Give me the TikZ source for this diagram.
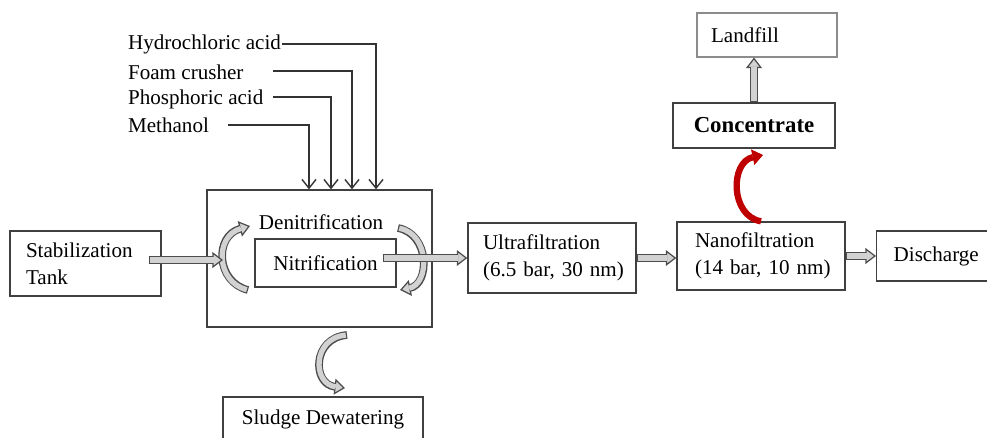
\documentclass[tikz,border=0pt]{standalone}
\usepackage{fontspec}
\setmainfont{Liberation Serif}
\usetikzlibrary{arrows.meta,positioning,calc}

\begin{document}
\begin{tikzpicture}[x=0.02cm, y=-0.02cm,
  font=\fontsize{12}{15.4}\selectfont,
  box/.style={draw=black!75, line width=0.8pt, align=left, inner ysep=0pt},
  chem/.style={anchor=west, inner sep=1pt},
  feed/.style={draw=black!80, line width=0.8pt, -{Straight Barb[length=5pt, width=8pt, line width=0.8pt]}},
  blk/.style={draw=black!70, line width=4.4pt,
    -{Triangle[open, fill=gray!35, line width=0.7pt, length=6pt, width=9pt]},
    postaction={draw=gray!35, line width=3pt, shorten >=5.3pt, shorten <=0.7pt, arrows=-}},
  redarr/.style={draw=red!75!black, line width=3.6pt, -{Triangle[length=6pt, width=9pt, line width=0.5pt]}}]
\useasboundingbox (0,0) rectangle (987,437);
% process boxes
\node[box, text width=2.38cm, inner xsep=0.32cm, minimum height=1.3cm] (stab) at (85.5,263.5) {Stabilization\\Tank};
\node[box, minimum width=4.5cm, minimum height=2.74cm] (reactor) at (319.5,258.5) {};
\node (denit) at (321,222) {Denitrification};
\node[box, minimum width=2.82cm, minimum height=0.96cm] (nit) at (325.5,263) {Nitrification};
\node[box, text width=2.76cm, inner xsep=0.3cm, minimum height=1.4cm] (uf) at (552,258) {Ultrafiltration\\\mbox{(6.5 bar, 30 nm)}};
\node[box, text width=2.64cm, inner xsep=0.36cm, minimum height=1.36cm] (nf) at (761,256) {Nanofiltration\\\mbox{(14 bar, 10 nm)}};
\node[box, anchor=west, text width=1.8cm, inner xsep=0.34cm, minimum height=1cm] (dis) at (876,256) {Discharge};
\node[box, minimum width=3.24cm, minimum height=0.9cm, font=\fontsize{13}{15}\selectfont\bfseries] (conc) at (754,125.5) {Concentrate};
\node[box, draw=black!45, line width=0.6pt, text width=2.24cm, inner xsep=0.28cm, minimum height=0.88cm] (land) at (767,35) {Landfill};
\node[box, minimum width=4cm, minimum height=0.88cm] (sludge) at (323,419) {Sludge Dewatering};
% chemicals dosed into the reactor
\node[chem] (hcl) at (126,44) {Hydrochloric acid};
\node[chem] (foam) at (126,72) {Foam crusher};
\node[chem] (phos) at (126,99) {Phosphoric acid};
\node[chem] (meth) at (126,125) {Methanol};
\coordinate (hcl-s) at (282,44);
\coordinate (foam-s) at (273,71);
\coordinate (phos-s) at (273,97);
\coordinate (meth-s) at (228,125);
\draw[feed] (hcl-s) -| (376,0 |- reactor.north);
\draw[feed] (foam-s) -| (352,0 |- reactor.north);
\draw[feed] (phos-s) -| (331,0 |- reactor.north);
\draw[feed] (meth-s) -| (309,0 |- reactor.north);
% recirculation arrows
\coordinate (rl-a) at (248,290);
\coordinate (rl-b) at (250,226);
\coordinate (rr-a) at (398,228);
\coordinate (rr-b) at (400,290);
\coordinate (sl-a) at (347,335);
\coordinate (sl-b) at (345,388);
\coordinate (rc-b) at (763,155);
\coordinate (lin) at (223,260);
\draw[blk] (rl-a) .. controls (216,282) and (214,236) .. (rl-b);
\draw[blk] (rr-a) .. controls (430,234) and (430,284) .. (rr-b);
\draw[blk] (sl-a) .. controls (312,338) and (312,384) .. (sl-b);
\draw[redarr] (nf.north) .. controls (730,216) and (730,162) .. (rc-b);
% main flow
\draw[blk] ($(stab.east |- lin)+(-13,0)$) -- (lin);
\draw[blk] ($(nit.east |- uf.west)+(-14,0)$) -- (uf.west);
\draw[blk] (uf.east) -- (uf.east -| nf.west);
\draw[blk] (nf.east |- dis.west) -- (dis.west);
\draw[blk] (conc.north) -- (conc.north |- land.south);
\end{tikzpicture}
\end{document}
